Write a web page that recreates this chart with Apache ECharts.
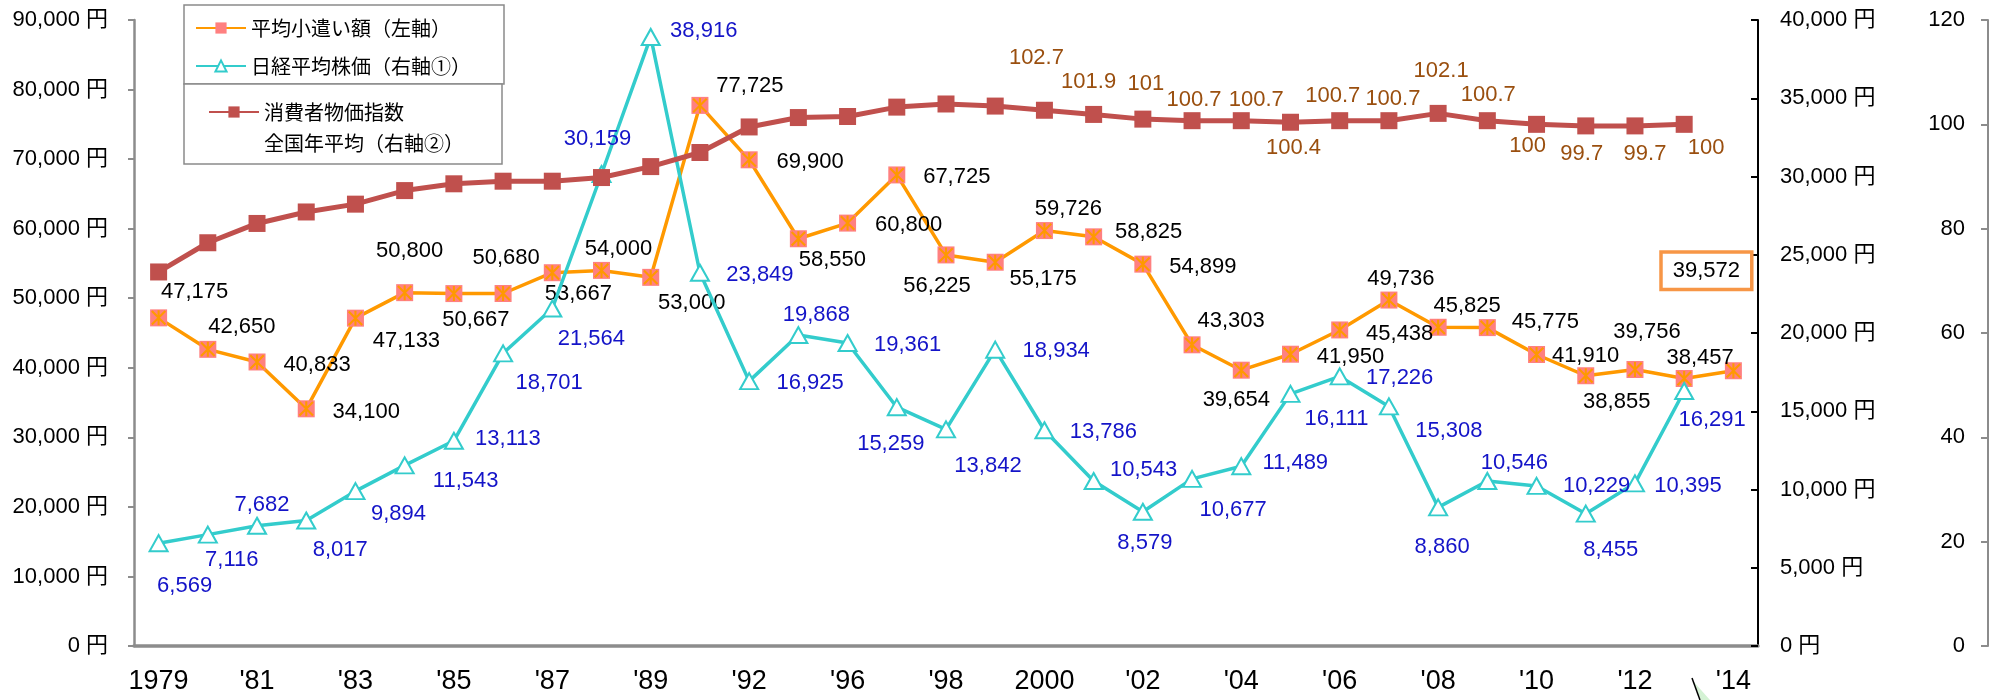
<!DOCTYPE html>
<html>
<head>
<meta charset="utf-8">
<title>平均小遣い額・日経平均株価・消費者物価指数</title>
<script src="https://cdn.jsdelivr.net/npm/echarts@6.0.0/dist/echarts.min.js"></script>
</head>
<body style="margin:0">
<div id="main" style="width:2005px;height:700px"></div>
<script>
// 年（カテゴリ）
var years = [1979, 1980, 1981, 1982, 1983, 1984, 1985, 1986, 1987, 1988, 1989, 1990,
  1992, 1995, 1996, 1997, 1998, 1999, 2000, 2001, 2002, 2003, 2004, 2005, 2006,
  2007, 2008, 2009, 2010, 2011, 2012, 2013, 2014];

// 平均小遣い額（左軸・円）
var allowance = [47175, 42650, 40833, 34100, 47133, 50800, 50667, 50680, 53667, 54000,
  53000, 77725, 69900, 58550, 60800, 67725, 56225, 55175, 59726, 58825, 54899, 43303,
  39654, 41950, 45438, 49736, 45825, 45775, 41910, 38855, 39756, 38457, 39572];

// 日経平均株価（右軸①・円）
var nikkei = [6569, 7116, 7682, 8017, 9894, 11543, 13113, 18701, 21564, 30159, 38916,
  23849, 16925, 19868, 19361, 15259, 13842, 18934, 13786, 10543, 8579, 10677, 11489,
  16111, 17226, 15308, 8860, 10546, 10229, 8455, 10395, 16291];

// 消費者物価指数 全国年平均（右軸②）
var cpi = [71.7, 77.3, 81.0, 83.2, 84.7, 87.3, 88.6, 89.1, 89.1, 89.8, 91.9, 94.6,
  99.5, 101.3, 101.5, 103.3, 103.9, 103.5, 102.7, 101.9, 101, 100.7, 100.7, 100.4,
  100.7, 100.7, 102.1, 100.7, 100, 99.7, 99.7, 100];
var cpiLabelFrom = 18; // 2000年以降だけラベル表示

// ラベルの位置ずらし（px）
var allowanceOffsets = [[36,-26],[34,-22],[60,3],[60,3],[51,23],[5,-42],[22,26],[3,-36],
  [26,21],[17,-21],[41,26],[50,-19],[61,2],[34,21],[61,2],[60,2],[-9,31],[48,17],[24,-22],
  [55,-5],[60,3],[39,-24],[-5,30],[60,3],[60,4],[12,-21],[29,-21],[58,-6],[49,1],[31,26],
  [12,-38],[16,-21],[-27,-100]];
var nikkeiOffsets = [[26,43],[24,25],[5,-21],[34,29],[43,23],[61,16],[54,-2],[46,30],
  [39,30],[-4,-35],[53,-6],[60,2],[61,2],[18,-20],[60,2],[-6,37],[42,37],[61,1],[59,2],
  [50,-11],[2,31],[41,31],[54,-3],[46,25],[60,2],[60,25],[4,40],[27,-18],[60,0],[25,36],
  [53,3],[28,29]];
var cpiOffsets = [[-8,-52],[-5,-32],[3,-35],[2,-21],[15,-21],[3,26],[-7,-25],[4,-22],
  [3,-42],[1,-26],[-9,22],[-4,28],[10,28],[22,24]];

var FONT = "'Liberation Sans', 'Noto Sans CJK JP', sans-serif";
var JP = "'Noto Sans CJK JP', sans-serif";
// 小遣い額マーカーの中の「米」印（塗りつぶし図形）
var STAR = 'path://M4.3,0H5.7V10H4.3Z M0,1L1,0L10,9L9,10Z M9,0L10,1L1,10L0,9Z';

function comma(v) { return Number(v).toLocaleString('en-US'); }

var allowanceData = allowance.map(function (v, i) {
  var item = { value: v, label: { offset: allowanceOffsets[i] } };
  if (i === allowance.length - 1) {
    // 最新値は枠付き
    item.label.borderColor = '#f79646';
    item.label.borderWidth = 3.5;
    item.label.padding = [6, 10];
    item.label.backgroundColor = '#fff';
  }
  return item;
});
var nikkeiData = nikkei.map(function (v, i) {
  return { value: v, label: { offset: nikkeiOffsets[i] } };
});
var cpiData = cpi.map(function (v, i) {
  if (i < cpiLabelFrom) return { value: v, label: { show: false } };
  return { value: v, label: { offset: cpiOffsets[i - cpiLabelFrom] } };
});

var myChart = echarts.init(document.getElementById('main'));
var option = {
  backgroundColor: '#ffffff',
  animation: false,
  textStyle: { fontFamily: FONT },
  grid: { left: 134, right: 247, top: 20, bottom: 54 },
  xAxis: {
    type: 'category',
    data: years,
    boundaryGap: true,
    axisLine: { lineStyle: { color: '#8c8c8c', width: 3.5 } },
    axisTick: { show: false },
    axisLabel: {
      interval: 1, fontSize: 27, color: '#000', margin: 22, fontFamily: FONT,
      formatter: function (v) {
        if (v === '1979' || v === '2000') return v;
        return "'" + String(v).slice(2);
      }
    }
  },
  yAxis: [
    {
      type: 'value', position: 'left', min: 0, max: 90000, interval: 10000,
      splitLine: { show: false },
      axisLine: { show: true, lineStyle: { color: '#8c8c8c', width: 2.5 } },
      axisTick: { show: true, length: 6, lineStyle: { color: '#8c8c8c', width: 2 } },
      axisLabel: { margin: 26, fontSize: 22, color: '#000', fontFamily: FONT,
        formatter: function (v) { return comma(v) + ' 円'; } }
    },
    {
      type: 'value', position: 'right', min: 0, max: 40000, interval: 5000,
      splitLine: { show: false },
      axisLine: { show: true, lineStyle: { color: '#000', width: 2 } },
      axisTick: { show: true, inside: true, length: 7, lineStyle: { color: '#000', width: 2 } },
      axisLabel: { margin: 22, fontSize: 22, color: '#000', fontFamily: FONT,
        formatter: function (v) { return comma(v) + ' 円'; } }
    },
    {
      type: 'value', position: 'right', offset: 230, min: 0, max: 120, interval: 20,
      splitLine: { show: false },
      axisLine: { show: true, lineStyle: { color: '#8c8c8c', width: 2 } },
      axisTick: { show: true, inside: true, length: 7, lineStyle: { color: '#8c8c8c', width: 2 } },
      axisLabel: { inside: true, margin: 23, fontSize: 22, color: '#000', fontFamily: FONT }
    }
  ],
  legend: [
    {
      data: ['平均小遣い額（左軸）', '日経平均株価（右軸①）'],
      orient: 'vertical', left: 195, top: 18, padding: 0,
      itemWidth: 50, itemHeight: 14, itemGap: 18, selectedMode: false,
      textStyle: { fontSize: 20, lineHeight: 20, color: '#000', fontFamily: JP }
    },
    {
      data: ['消費者物価指数\n全国年平均（右軸②）'],
      orient: 'vertical', left: 208, top: 65.5, padding: 0,
      itemWidth: 50, itemHeight: 14, selectedMode: false,
      // 先頭に空行を入れて、アイコンを1行目にそろえる
      formatter: function (name) { return ' \n' + name; },
      textStyle: { fontSize: 20, lineHeight: 31, color: '#000', fontFamily: JP }
    }
  ],
  graphic: [
    { type: 'rect', z: 0, shape: { x: 184, y: 5, width: 320, height: 79 },
      style: { fill: '#fff', stroke: '#8a8a8a', lineWidth: 1.5 } },
    { type: 'rect', z: 0, shape: { x: 184, y: 84, width: 318, height: 80 },
      style: { fill: '#fff', stroke: '#8a8a8a', lineWidth: 1.5 } },
    { type: 'polygon', z: 0, shape: { points: [[1693, 681], [1701, 700], [1710, 700]] },
      style: { fill: '#d4f2d4' } },
    { type: 'polyline', z: 0, shape: { points: [[1692, 678], [1700, 700]] },
      style: { stroke: '#000', lineWidth: 1.5 } }
  ],
  series: [
    {
      name: '平均小遣い額（左軸）',
      type: 'line', yAxisIndex: 0,
      data: allowanceData,
      symbol: 'rect', symbolSize: 17,
      lineStyle: { color: '#ff9900', width: 3.5 },
      itemStyle: { color: '#ff8080' },
      label: { show: true, position: 'inside', fontSize: 22, color: '#000', fontFamily: FONT,
        formatter: function (p) { return comma(p.value); } },
      z: 2
    },
    {
      name: '_mark',
      type: 'line', yAxisIndex: 0,
      data: allowance,
      symbol: STAR, symbolSize: 15,
      lineStyle: { opacity: 0 },
      itemStyle: { color: '#ff9900' },
      silent: true,
      z: 2
    },
    {
      name: '日経平均株価（右軸①）',
      type: 'line', yAxisIndex: 1,
      data: nikkeiData,
      symbol: 'triangle', symbolSize: [18, 16],
      lineStyle: { color: '#33cccc', width: 3.5 },
      itemStyle: { color: '#fff', borderColor: '#33cccc', borderWidth: 2 },
      label: { show: true, position: 'inside', fontSize: 22, color: '#1414c8', fontFamily: FONT,
        formatter: function (p) { return comma(p.value); } },
      z: 3
    },
    {
      name: '消費者物価指数\n全国年平均（右軸②）',
      type: 'line', yAxisIndex: 2,
      data: cpiData,
      symbol: 'rect', symbolSize: 17,
      lineStyle: { color: '#c0504d', width: 5 },
      itemStyle: { color: '#c0504d' },
      label: { show: true, position: 'inside', fontSize: 22, color: '#9a4f0f', fontFamily: FONT,
        formatter: function (p) { return String(p.value); } },
      z: 4
    }
  ]
};
myChart.setOption(option);
</script>
</body>
</html>
